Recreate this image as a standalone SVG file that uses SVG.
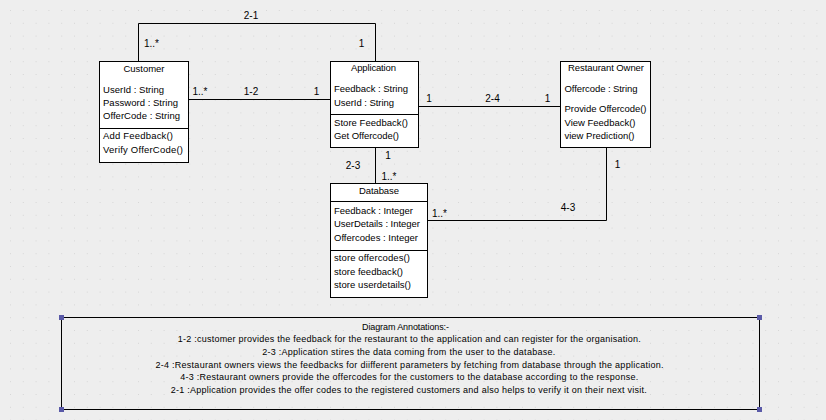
<svg xmlns="http://www.w3.org/2000/svg" width="826" height="420" viewBox="0 0 826 420">
<style>
text{font-family:"Liberation Sans",Arial,sans-serif;font-size:9.5px;fill:#000}
.box{fill:#fff;stroke:#000;stroke-width:1}
.sep{stroke:#000;stroke-width:1}
.con{fill:none;stroke:#000;stroke-width:1}
.lbl{font-size:10px}
.ann{font-size:9px}
.mid{text-anchor:middle}
.h{fill:#5a5aa8}
</style>
<defs>
<pattern id="grid" x="10" y="10" width="12.8" height="12.8" patternUnits="userSpaceOnUse">
<rect x="-0.5" y="-0.5" width="1.3" height="1.3" fill="#cacaca"/>
</pattern>
</defs>
<rect width="826" height="420" fill="#eeeeee"/>
<rect width="826" height="420" fill="url(#grid)"/>

<g id="connectors">
<polyline class="con" points="138.5,61.5 138.5,23.5 375.5,23.5 375.5,61.5"/>
<line class="con" x1="188.5" y1="99.5" x2="330.5" y2="99.5"/>
<line class="con" x1="418.5" y1="106.5" x2="560.5" y2="106.5"/>
<line class="con" x1="375.5" y1="147.5" x2="375.5" y2="183.5"/>
<polyline class="con" points="606.5,147.5 606.5,220.5 427.5,220.5"/>
<text class="lbl mid" x="251" y="18.5">2-1</text>
<text class="lbl" x="144" y="46.5">1..*</text>
<text class="lbl mid" x="361.5" y="46.5">1</text>
<text class="lbl" x="192.5" y="94.5">1..*</text>
<text class="lbl mid" x="251" y="94.5">1-2</text>
<text class="lbl mid" x="316.5" y="94.5">1</text>
<text class="lbl mid" x="429" y="101.5">1</text>
<text class="lbl mid" x="492.5" y="101.5">2-4</text>
<text class="lbl mid" x="547.5" y="101.5">1</text>
<text class="lbl mid" x="388" y="159">1</text>
<text class="lbl mid" x="353" y="168.5">2-3</text>
<text class="lbl" x="381.5" y="180">1..*</text>
<text class="lbl mid" x="617.5" y="168">1</text>
<text class="lbl mid" x="568" y="211">4-3</text>
<text class="lbl" x="432" y="217">1..*</text>
</g>

<g id="customer">
<rect class="box" x="99.5" y="61.5" width="89" height="101"/>
<line class="sep" x1="99.5" y1="128.5" x2="188.5" y2="128.5"/>
<text class="mid" x="144" y="72" textLength="41">Customer</text>
<text x="103" y="92.7" textLength="61">UserId : String</text>
<text x="103" y="106" textLength="75">Password : String</text>
<text x="103" y="119.3" textLength="77">OfferCode : String</text>
<text x="103" y="139.3" textLength="70">Add Feedback()</text>
<text x="103" y="152.7" textLength="80">Verify OfferCode()</text>
</g>

<g id="application">
<rect class="box" x="330.5" y="61.5" width="88" height="86"/>
<line class="sep" x1="330.5" y1="114.5" x2="418.5" y2="114.5"/>
<text class="mid" x="373.5" y="71" textLength="45">Application</text>
<text x="334" y="92.3" textLength="74">Feedback : String</text>
<text x="334" y="106" textLength="60">UserId : String</text>
<text x="334" y="125.7" textLength="74">Store Feedback()</text>
<text x="334" y="139" textLength="65">Get Offercode()</text>
</g>

<g id="restaurant-owner">
<rect class="box" x="560.5" y="61.5" width="90" height="86"/>
<text class="mid" x="606" y="71" textLength="76">Restaurant Owner</text>
<text x="564.5" y="92.3" textLength="73">Offercode : String</text>
<text x="564.5" y="112.3" textLength="82">Provide Offercode()</text>
<text x="564.5" y="125.7" textLength="71">View Feedback()</text>
<text x="564.5" y="139" textLength="70">view Prediction()</text>
</g>

<g id="database">
<rect class="box" x="330.5" y="183.5" width="97" height="114"/>
<line class="sep" x1="330.5" y1="201.5" x2="427.5" y2="201.5"/>
<line class="sep" x1="330.5" y1="250.5" x2="427.5" y2="250.5"/>
<text class="mid" x="379" y="194" textLength="40">Database</text>
<text x="334" y="214" textLength="79">Feedback : Integer</text>
<text x="334" y="227.3" textLength="86">UserDetails : Integer</text>
<text x="334" y="240.7" textLength="84">Offercodes : Integer</text>
<text x="334" y="260.7" textLength="76">store offercodes()</text>
<text x="334" y="275" textLength="69">store feedback()</text>
<text x="334" y="288.3" textLength="77">store userdetails()</text>
</g>

<g id="annotations">
<rect x="61.5" y="317.5" width="698" height="92" fill="none" stroke="#000" stroke-width="1"/>
<rect class="h" x="59" y="315" width="5" height="5"/>
<rect class="h" x="757" y="315" width="5" height="5"/>
<rect class="h" x="59" y="407" width="5" height="5"/>
<rect class="h" x="757" y="407" width="5" height="5"/>
<text class="ann mid" x="405.5" y="329.5" textLength="87">Diagram Annotations:-</text>
<text class="ann mid" x="409.2" y="342.3" textLength="463">1-2 :customer provides the feedback for the restaurant to the application and can register for the organisation.</text>
<text class="ann mid" x="408.7" y="355.3" textLength="293">2-3 :Application stires the data coming from the user to the database.</text>
<text class="ann mid" x="409.5" y="367.8" textLength="508">2-4 :Restaurant owners views the feedbacks for diifferent parameters by fetching from database through the application.</text>
<text class="ann mid" x="409.2" y="380.3" textLength="458">4-3 :Restaurant owners provide the offercodes for the customers to the database according to the response.</text>
<text class="ann mid" x="408.7" y="393" textLength="476">2-1 :Application provides the offer codes to the registered customers and also helps to verify it on their next visit.</text>
</g>
</svg>
